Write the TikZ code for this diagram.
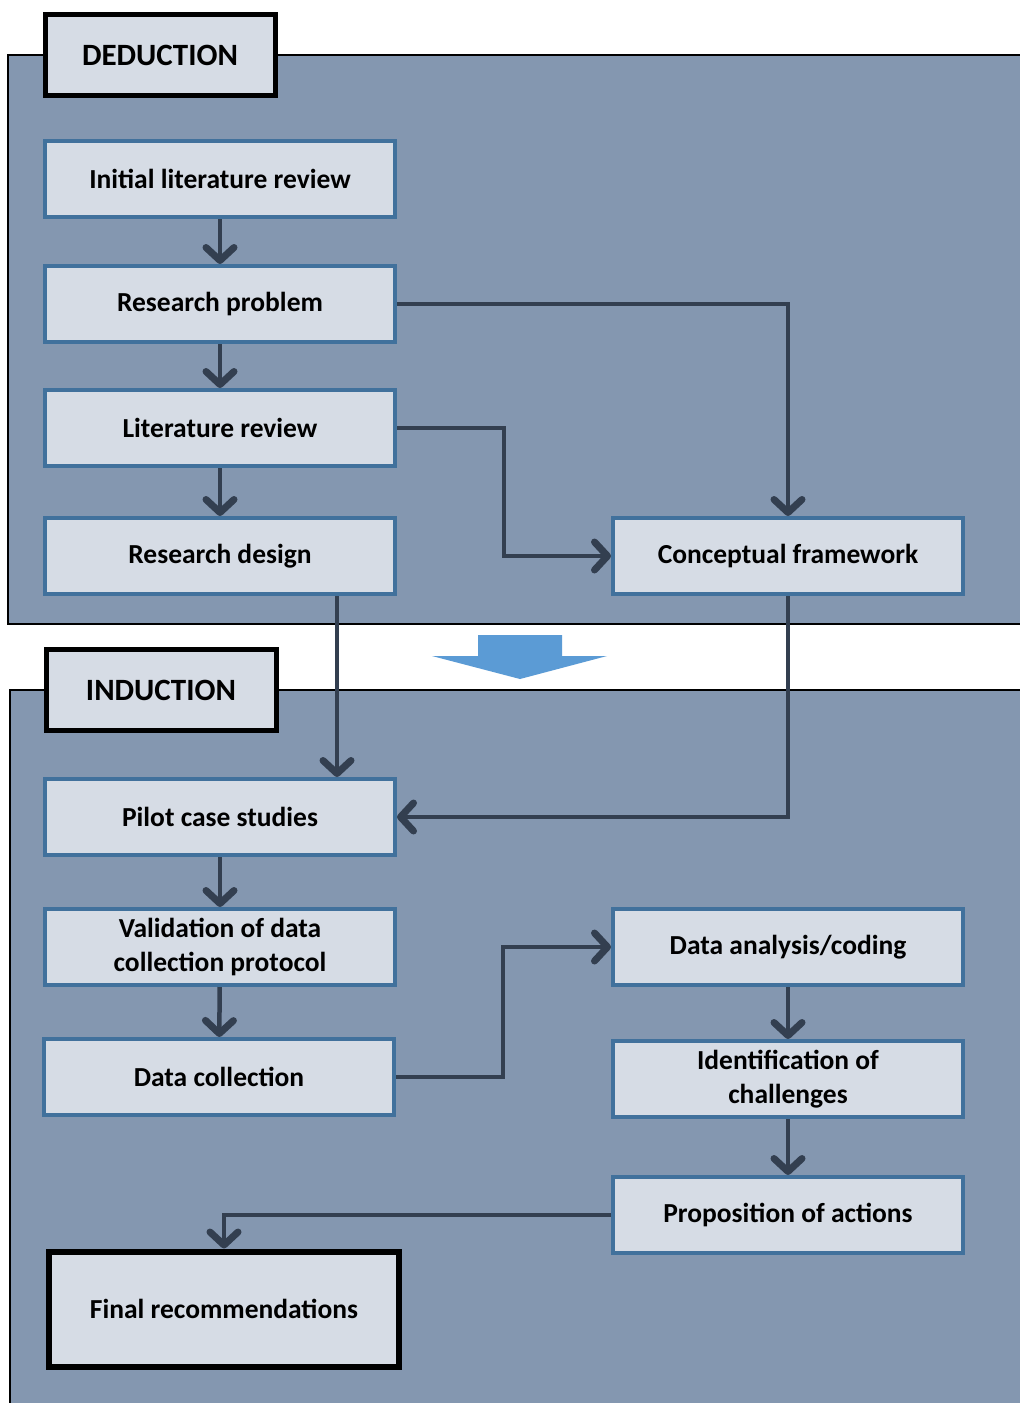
\documentclass[tikz,border=0pt]{standalone}
\usepackage{fontspec}
\setmainfont{Carlito}
\usetikzlibrary{arrows.meta, positioning}
\definecolor{cpanel}{HTML}{8497B0}
\definecolor{cboxfill}{HTML}{D6DCE5}
\definecolor{cboxline}{HTML}{41719C}
\definecolor{clink}{HTML}{333F50}
\definecolor{cbig}{HTML}{5B9BD5}
\tikzset{
  every picture/.style={x=1pt, y=-1pt},
  panel/.style={draw=black, line width=1.2pt, fill=cpanel},
  stagebox/.style={draw=black, line width=5pt, fill=cboxfill, minimum width=230pt, minimum height=81pt, font=\fontsize{31}{35}\selectfont\bfseries},
  box/.style={draw=cboxline, line width=4pt, fill=cboxfill, align=center, minimum width=350pt, minimum height=76pt, font=\fontsize{27.5}{34}\selectfont\bfseries},
  endbox/.style={box, draw=black, line width=6pt, minimum height=115pt},
  link/.style={-{Straight Barb[length=13pt, width=28pt, line width=7pt, round]}, draw=clink, line width=4.5pt},
}
\begin{document}
\begin{tikzpicture}
  \useasboundingbox (0,0) rectangle (1020,1403);
  \fill[white] (0,0) rectangle (1020,1403);
  % deduction part
  \draw[panel] (8,55) rectangle (1030,624);
  \node[stagebox] (ded) at (160,55) {DEDUCTION};
  \node[box] (ilr) at (220,179) {Initial literature review};
  \node[box] (rp) at (220,304) {Research problem};
  \node[box] (lr) at (220,428) {Literature review};
  \node[box] (rd) at (220,556) {Research design};
  \node[box] (cf) at (788,556) {Conceptual framework};
  % big arrow between the parts
  \fill[cbig] (478,635) -- (562,635) -- (562,656) -- (607,656) -- (520,679) -- (432,656) -- (478,656) -- cycle;
  % induction part
  \draw[panel] (10,690) rectangle (1030,1420);
  \node[stagebox] (ind) at (161,690) {INDUCTION};
  \node[box] (pcs) at (220,817) {Pilot case studies};
  \node[box] (vdc) at (220,947) {Validation of data\\collection protocol};
  \node[box] (dc) at (219,1077) {Data collection};
  \node[box] (dac) at (788,947) {Data analysis/coding};
  \node[box] (idc) at (788,1079) {Identification of\\challenges};
  \node[box] (poa) at (788,1215) {Proposition of actions};
  \node[endbox] (fr) at (224,1309) {Final recommendations};
  % links
  \draw[link] (ilr) -- (rp);
  \draw[link] (rp) -- (lr);
  \draw[link] (lr) -- (rd);
  \draw[link] (rp.east) -| (cf.north);
  \draw[link] (lr.east) -- ++(107,0) |- (cf.west);
  \draw[link] ([xshift=117pt]rd.south) -- ([xshift=117pt]pcs.north);
  \draw[link] (cf.south) |- (pcs.east);
  \draw[link] (pcs) -- (vdc);
  \draw[link] (vdc) -- (dc);
  \draw[link] (dc.east) -- ++(107,0) |- (dac.west);
  \draw[link] (dac) -- (idc);
  \draw[link] (idc) -- (poa);
  \draw[link] (poa.west) -| (fr.north);
\end{tikzpicture}
\end{document}
